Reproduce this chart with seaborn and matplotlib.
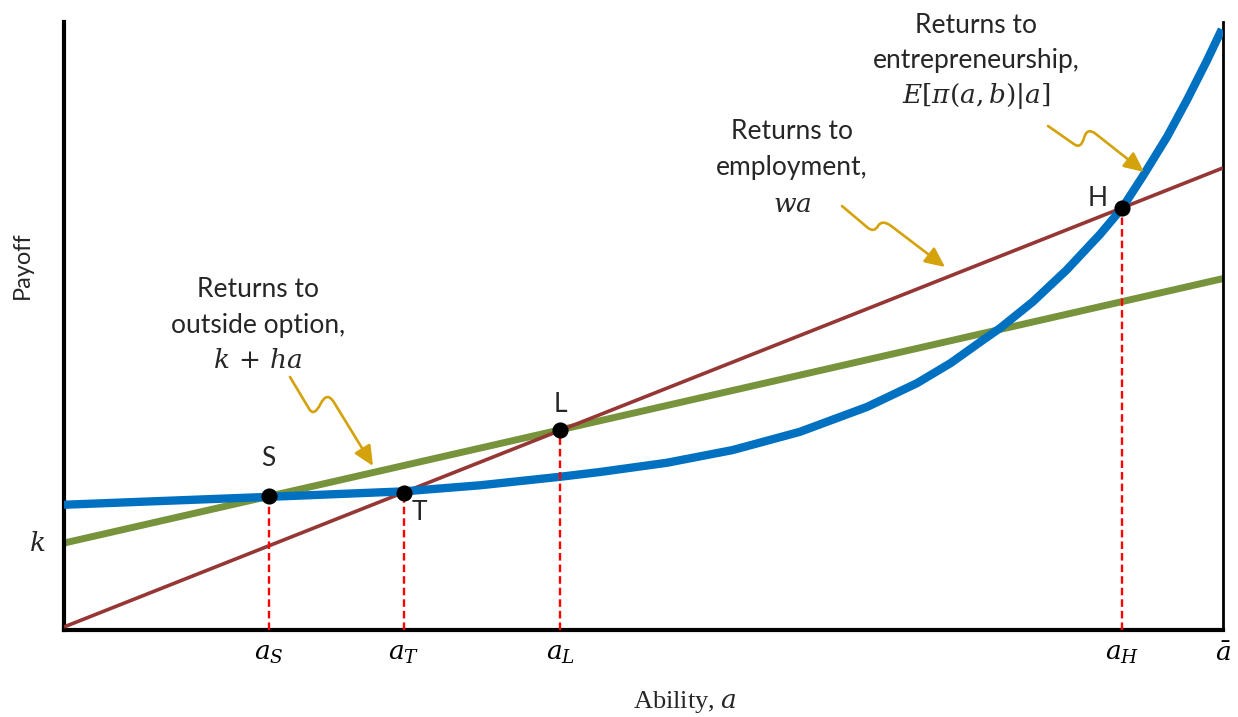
import matplotlib
matplotlib.use("Agg")
import matplotlib.pyplot as plt
from matplotlib.path import Path
from matplotlib.patches import FancyArrowPatch
from matplotlib.transforms import Affine2D
import seaborn as sns

# Ability runs from 0 to a-bar = 1; payoffs on a 0-1 scale
ability_ends = [0.0, 1.0]
employment_ends = [0.005, 0.760]   # wa
outside_ends = [0.143, 0.578]      # k + ha
k_level = 0.143

# Expected returns to entrepreneurship, E[pi(a,b)|a]
entre_ability = [0.000, 0.177, 0.293, 0.359, 0.428, 0.463, 0.520, 0.577,
                 0.635, 0.693, 0.736, 0.765, 0.793, 0.808, 0.836, 0.865,
                 0.894, 0.913, 0.931, 0.952, 0.969, 0.986, 0.999]
entre_payoff = [0.206, 0.219, 0.228, 0.238, 0.252, 0.260, 0.275, 0.296,
                0.326, 0.367, 0.406, 0.439, 0.477, 0.497, 0.540, 0.592,
                0.651, 0.694, 0.747, 0.812, 0.872, 0.936, 0.988]

# Crossing points and their ability thresholds
point_names = ["S", "T", "L", "H"]
point_ability = [0.177, 0.293, 0.428, 0.913]
point_payoff = [0.220, 0.226, 0.329, 0.694]
tick_labels = [r"$a_S$", r"$a_T$", r"$a_L$", r"$a_H$", r"$\bar{a}$"]

BLUE = "#0070C0"
GREEN = "#77933C"
DARKRED = "#953735"
GOLD = "#D4A20A"

sns.set_theme(style="white")
plt.rcParams["font.family"] = ["Lato", "DejaVu Sans"]
plt.rcParams["mathtext.fontset"] = "dejavuserif"

W, H = 1238, 717
fig = plt.figure(figsize=(W / 100, H / 100), dpi=100)
ax = fig.add_axes([64 / W, 1 - 630 / H, (1223 - 64) / W, (630 - 22) / H])
ax.set_xlim(0, 1)
ax.set_ylim(0, 1)

sns.lineplot(x=ability_ends, y=outside_ends, ax=ax, color=GREEN, lw=5.0,
             zorder=2, solid_capstyle="butt")
sns.lineplot(x=ability_ends, y=employment_ends, ax=ax, color=DARKRED, lw=2.6,
             zorder=3, solid_capstyle="butt")
sns.lineplot(x=entre_ability, y=entre_payoff, ax=ax, color=BLUE, lw=6.0,
             zorder=4, solid_capstyle="butt", solid_joinstyle="round")

ax.vlines(point_ability, 0, point_payoff, colors="#FF0000", lw=1.7,
          linestyles=(0, (3.2, 1.7)), zorder=5)
ax.scatter(point_ability, point_payoff, s=135, color="black", zorder=6,
           linewidths=0)

# Spines: left and bottom heavy, right as the a-bar boundary
ax.spines["top"].set_visible(False)
for side in ("left", "bottom"):
    ax.spines[side].set_linewidth(3.0)
    ax.spines[side].set_color("black")
ax.spines["right"].set_linewidth(2.0)
ax.spines["right"].set_color("black")

ax.set_xticks(point_ability + [1.0], tick_labels, fontsize=19)
ax.tick_params(axis="x", length=0, pad=8, colors="black")
ax.set_yticks([])
ax.set_xlabel("")
ax.set_ylabel("")

ax.text(-0.016, k_level, r"$k$", ha="right", va="center", fontsize=19,
        clip_on=False)


def ftext(x, y, s, **kw):
    fig.text(x / W, 1 - y / H, s, **kw)


# Point labels
label_pos = {"S": (268, 458), "T": (419, 512), "L": (560, 404), "H": (1098, 198)}
for name in point_names:
    x, y = label_pos[name]
    ftext(x, y, name, ha="center", va="center", fontsize=19)

# Axis titles
ftext(22, 265, "Payoff", rotation=90, ha="center", va="center", fontsize=17)
ftext(685, 708, r"Ability, $a$", ha="center", va="baseline", fontsize=19,
      family=["Liberation Serif", "DejaVu Serif"])

# Curve descriptions
blocks = [
    (258, [("Returns to", 297), ("outside option,", 333), (r"$k\,+\,ha$", 368)]),
    (792, [("Returns to", 139), ("employment,", 175), (r"$wa$", 212)]),
    (976, [("Returns to", 33), ("entrepreneurship,", 68),
           (r"$E[\pi(a,b)|a]$", 103)]),
]
for cx, lines in blocks:
    for s, base in lines:
        ftext(cx, base, s, ha="center", va="baseline", fontsize=19)

# Squiggly pointer arrows (in figure pixel coordinates)
pix = Affine2D().scale(1 / W, -1 / H).translate(0, 1) + fig.transFigure


def squiggle(start, bottom, peak, tip):
    def lerp(p, q, t):
        return (p[0] + (q[0] - p[0]) * t, p[1] + (q[1] - p[1]) * t)
    verts = [start,
             lerp(start, bottom, 0.8), bottom, lerp(bottom, peak, 0.5),
             peak, lerp(peak, tip, 0.15),
             tip]
    codes = [Path.MOVETO,
             Path.LINETO, Path.CURVE3, Path.CURVE3,
             Path.CURVE3, Path.CURVE3,
             Path.LINETO]
    arrow = FancyArrowPatch(path=Path(verts, codes),
                            arrowstyle="-|>,head_length=0.6,head_width=0.28",
                            mutation_scale=20, color=GOLD, lw=1.9,
                            transform=pix)
    fig.add_artist(arrow)


squiggle((290, 377), (314, 417), (327, 391), (373, 466))
squiggle((842, 206), (874, 233), (882, 219), (945, 267))
squiggle((1048, 126), (1081, 149), (1087, 127), (1144, 172))

fig.savefig("out.png", dpi=100)
